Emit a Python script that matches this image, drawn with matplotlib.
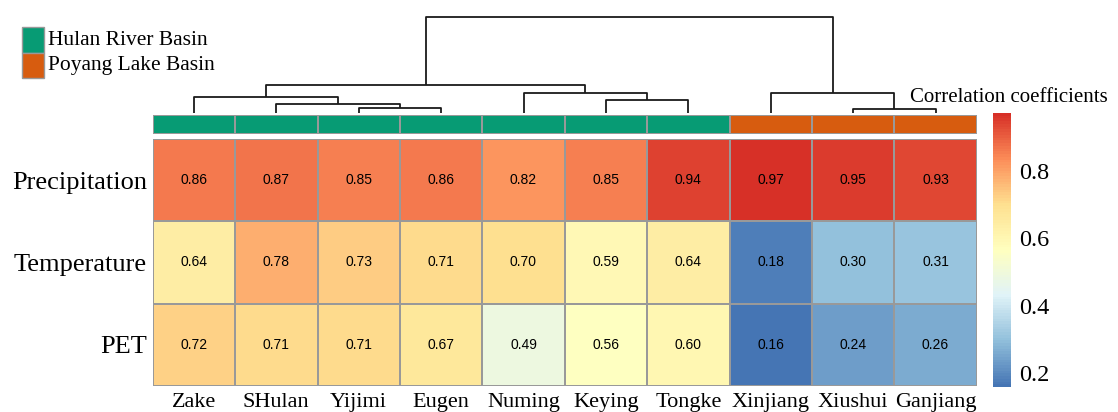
import numpy as np
import matplotlib
matplotlib.use("Agg")
import matplotlib.pyplot as plt
from matplotlib.colors import LinearSegmentedColormap, ListedColormap

# ---------------- data ----------------
stations = ["Zake", "SHulan", "Yijimi", "Eugen", "Numing",
            "Keying", "Tongke", "Xinjiang", "Xiushui", "Ganjiang"]
variables = ["Precipitation", "Temperature", "PET"]

precipitation = [0.86, 0.87, 0.85, 0.86, 0.82, 0.85, 0.94, 0.97, 0.95, 0.93]
temperature = [0.64, 0.78, 0.73, 0.71, 0.70, 0.59, 0.64, 0.18, 0.30, 0.31]
pet = [0.72, 0.71, 0.71, 0.67, 0.49, 0.56, 0.60, 0.16, 0.24, 0.26]

# basin of each station (0 = Hulan, 1 = Poyang)
basin = [0, 0, 0, 0, 0, 0, 0, 1, 1, 1]
basin_names = ["Hulan River Basin", "Poyang Lake Basin"]
basin_colors = ["#079B74", "#D75C0F"]

# column clustering: (left, right, height); new clusters numbered from 10
linkage = [
    (2, 3, 5.0),
    (1, 10, 9.3),
    (0, 11, 16.0),
    (5, 6, 13.3),
    (4, 13, 20.0),
    (12, 14, 28.3),
    (8, 9, 4.0),
    (7, 16, 20.0),
    (15, 17, 96.6),
]

ticks = [0.2, 0.4, 0.6, 0.8]

# ---------------- style ----------------
SERIF = "Liberation Serif"
SANS = "Liberation Sans"
W, H = 1118, 412
cmap = LinearSegmentedColormap.from_list(
    "rdylbu7",
    ["#4575B4", "#91BFDB", "#E0F3F8", "#FFFFBF", "#FEE090", "#FC8D59", "#D73027"],
    N=100,
)
grid_color = "#999999"


def px_rect(x0, y0, x1, y1):
    return [x0 / W, 1 - y1 / H, (x1 - x0) / W, (y1 - y0) / H]


values = np.array([precipitation, temperature, pet])
vmin, vmax = values.min(), values.max()
n_col = len(stations)

fig = plt.figure(figsize=(W / 100, H / 100), dpi=100)
fig.patch.set_facecolor("white")

# ---------------- heatmap ----------------
ax = fig.add_axes(px_rect(152.7, 139, 976.7, 386))
mesh = ax.pcolormesh(values, cmap=cmap, vmin=vmin, vmax=vmax,
                     edgecolors=grid_color, linewidth=1.2)
ax.set_xlim(0, n_col)
ax.set_ylim(len(variables), 0)
for r in range(values.shape[0]):
    for c in range(n_col):
        ax.text(c + 0.5, r + 0.5, f"{values[r, c]:.2f}", ha="center",
                va="center", fontsize=10, family=SANS, color="black")
ax.set_xticks(np.arange(n_col) + 0.5)
ax.set_xticklabels(stations, family=SERIF, fontsize=16)
ax.set_yticks(np.arange(len(variables)) + 0.5)
ax.set_yticklabels(variables, family=SERIF, fontsize=19)
ax.tick_params(length=0, pad=5)
ax.tick_params(axis="y", pad=4)
for s in ax.spines.values():
    s.set_visible(False)

# ---------------- annotation bar ----------------
ax_ann = fig.add_axes(px_rect(152.7, 114.5, 976.7, 133.5))
ax_ann.pcolormesh([basin], cmap=ListedColormap(basin_colors), vmin=-0.5,
                  vmax=1.5, edgecolors=grid_color, linewidth=1.2)
ax_ann.set_xlim(0, n_col)
ax_ann.set_ylim(0, 1)
ax_ann.axis("off")

# ---------------- dendrogram ----------------
ax_den = fig.add_axes(px_rect(152.7, 10, 976.7, 114.3))
node_x = {i: i + 0.5 for i in range(n_col)}
node_h = {i: 0.0 for i in range(n_col)}
for k, (a, b, h) in enumerate(linkage):
    xa, xb = node_x[a], node_x[b]
    ax_den.plot([xa, xa, xb, xb], [node_h[a], h, h, node_h[b]],
                color="#1a1a1a", linewidth=1.3, solid_capstyle="butt")
    node_x[n_col + k] = (xa + xb) / 2
    node_h[n_col + k] = h
ax_den.set_xlim(0, n_col)
ax_den.set_ylim(-1, 103.3)
ax_den.axis("off")

# ---------------- colorbar ----------------
cax = fig.add_axes(px_rect(992.7, 113, 1010.5, 387))
cb = fig.colorbar(mesh, cax=cax, ticks=ticks)
cb.outline.set_visible(False)
cax.tick_params(length=0, pad=6)
cax.set_yticklabels([f"{t:.1f}" for t in ticks], family=SERIF, fontsize=17.5)
fig.text(910 / W, 1 - 97 / H, "Correlation coefficients", family=SERIF,
         fontsize=15, va="center", ha="left")

# ---------------- legend ----------------
for i, (name, col) in enumerate(zip(basin_names, basin_colors)):
    y0 = 27.3 + i * 25.5
    fig.patches.append(plt.Rectangle((22 / W, 1 - (y0 + 25.5) / H), 22 / W,
                                     25.5 / H, transform=fig.transFigure,
                                     facecolor=col, edgecolor=grid_color,
                                     linewidth=1.0))
    fig.text(48 / W, 1 - (y0 + 13) / H, name, family=SERIF, fontsize=15.5,
             va="center", ha="left")

fig.savefig("out.png", dpi=100)
